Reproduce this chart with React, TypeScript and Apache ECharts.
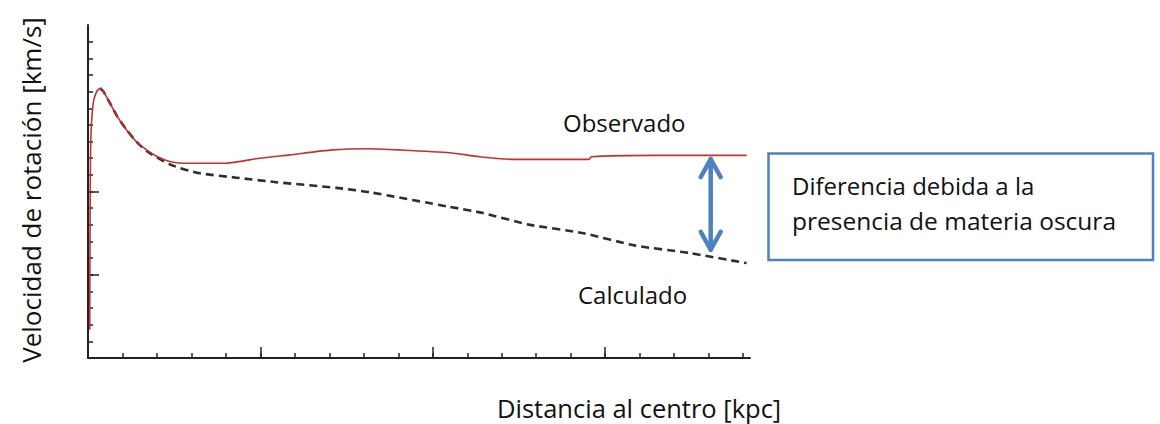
import { useEffect, useRef } from "react";
import * as echarts from "echarts";

// Distance from centre (kpc, arbitrary units as drawn) and rotation speed
const observedDist = [0.05, 0.06, 0.08, 0.15, 0.25, 0.35, 0.45, 0.64, 0.85, 1.12, 1.4, 1.7, 2.0, 2.37, 2.75, 4.0, 4.98, 5.85, 7.09, 8.16, 9.03, 10.48, 11.35, 12.36, 14.53, 14.6, 16.46, 19.1];
const observedVel = [1.7, 8.0, 13.0, 15.3, 16.0, 16.2, 16.0, 15.3, 14.5, 13.7, 13.0, 12.5, 12.1, 11.8, 11.7, 11.7, 12.0, 12.2, 12.5, 12.57, 12.5, 12.33, 12.09, 11.93, 11.93, 12.09, 12.17, 12.17];

const calcDist = [0.35, 0.45, 0.64, 0.85, 1.12, 1.4, 1.7, 2.37, 3.15, 4.3, 5.46, 7.2, 8.16, 10.48, 11.43, 12.79, 14.33, 15.88, 17.42, 19.1];
const calcVel = [16.2, 16.0, 15.3, 14.5, 13.7, 13.0, 12.43, 11.63, 11.13, 10.83, 10.56, 10.22, 9.96, 9.08, 8.72, 8.01, 7.51, 6.75, 6.31, 5.7];

const xMinorTicks = [1, 2, 3, 4, 5, 6, 7, 8, 9, 10, 11, 12, 13, 14, 15, 16, 17, 18, 19];
const xMajorTicks = [5, 10, 15];
const yMinorTicks = [1, 2, 3, 4, 5, 6, 7, 8, 9, 10, 11, 12, 13, 14, 15, 16, 17, 18, 19];
const yMajorTicks = [5, 10];

const xTitle = "Distancia al centro [kpc]";
const yTitle = "Velocidad de rotación [km/s]";
const observedLabel = "Observado";
const calcLabel = "Calculado";
const noteLines = ["Diferencia debida a la", "presencia de materia oscura"];

// arrow anchor (data units)
const arrowX = 18.06;
const arrowTop = 11.95;
const arrowBottom = 6.5;

const FONT = "'Open Sans', sans-serif";
const BLUE = "#4f81bd";

export default function App() {
  const ref = useRef<HTMLDivElement>(null);
  useEffect(() => {
    if (!ref.current) return;
    const chart = echarts.init(ref.current, undefined, { renderer: "svg" });
    const axisBase = {
      type: "value" as const,
      axisLabel: { show: false },
      splitLine: { show: false },
    };
    chart.setOption({
      animation: false,
      backgroundColor: "#ffffff",
      grid: { left: 88, top: 25, right: 410, bottom: 66 },
      xAxis: [
        {
          ...axisBase,
          min: 0,
          max: 19.2,
          position: "bottom",
          axisLine: { show: true, lineStyle: { color: "#222", width: 2 } },
          axisTick: { show: true, inside: true, length: 5, customValues: xMinorTicks, lineStyle: { color: "#222", width: 1.5 } },
        },
        {
          ...axisBase,
          min: 0,
          max: 19.2,
          position: "bottom",
          axisLine: { show: false },
          axisTick: { show: true, inside: true, length: 11, customValues: xMajorTicks, lineStyle: { color: "#222", width: 1.5 } },
        },
      ],
      yAxis: [
        {
          ...axisBase,
          min: 0,
          max: 20,
          position: "left",
          axisLine: { show: true, lineStyle: { color: "#222", width: 2 } },
          axisTick: { show: true, inside: true, length: 5, customValues: yMinorTicks, lineStyle: { color: "#222", width: 1.5 } },
        },
        {
          ...axisBase,
          min: 0,
          max: 20,
          position: "left",
          axisLine: { show: false },
          axisTick: { show: true, inside: true, length: 11, customValues: yMajorTicks, lineStyle: { color: "#222", width: 1.5 } },
        },
      ],
      series: [
        {
          name: calcLabel,
          type: "line",
          xAxisIndex: 0,
          yAxisIndex: 0,
          data: calcDist.map((d, i) => [d, calcVel[i]]),
          showSymbol: false,
          symbol: "none",
          smooth: 0.2,
          lineStyle: { color: "#2e2e2e", width: 2.6, type: [8, 5] },
          z: 2,
        },
        {
          name: observedLabel,
          type: "line",
          xAxisIndex: 0,
          yAxisIndex: 0,
          data: observedDist.map((d, i) => [d, observedVel[i]]),
          showSymbol: false,
          symbol: "none",
          smooth: 0.2,
          lineStyle: { color: "#c62f2f", width: 1.6 },
          z: 3,
        },
      ],
    });

    const top = chart.convertToPixel({ xAxisIndex: 0, yAxisIndex: 0 }, [arrowX, arrowTop]) as number[];
    const bot = chart.convertToPixel({ xAxisIndex: 0, yAxisIndex: 0 }, [arrowX, arrowBottom]) as number[];
    const ax = top[0];
    const arrowStyle = { stroke: BLUE, lineWidth: 4.5, lineCap: "round", lineJoin: "round", fill: null };

    chart.setOption({
      graphic: [
        {
          type: "text",
          x: 31,
          y: 190,
          rotation: Math.PI / 2,
          style: { text: yTitle, font: `26px ${FONT}`, fill: "#111", align: "center", verticalAlign: "middle" },
        },
        {
          type: "text",
          x: 497,
          y: 408,
          style: { text: xTitle, font: `25.5px ${FONT}`, fill: "#111", align: "left", verticalAlign: "middle" },
        },
        {
          type: "text",
          x: 563,
          y: 122,
          style: { text: observedLabel, font: `24px ${FONT}`, fill: "#111", align: "left", verticalAlign: "middle" },
        },
        {
          type: "text",
          x: 578,
          y: 294,
          style: { text: calcLabel, font: `24px ${FONT}`, fill: "#111", align: "left", verticalAlign: "middle" },
        },
        {
          type: "rect",
          shape: { x: 768.5, y: 153.5, width: 384.5, height: 106.5 },
          style: { fill: "#fff", stroke: BLUE, lineWidth: 2.5 },
        },
        {
          type: "text",
          x: 792,
          y: 185,
          style: { text: noteLines[0], font: `24px ${FONT}`, fill: "#111", align: "left", verticalAlign: "middle" },
        },
        {
          type: "text",
          x: 792,
          y: 220,
          style: { text: noteLines[1], font: `24.5px ${FONT}`, fill: "#111", align: "left", verticalAlign: "middle" },
        },
        {
          type: "line",
          shape: { x1: ax, y1: top[1], x2: ax, y2: bot[1] },
          style: arrowStyle,
        },
        {
          type: "polyline",
          shape: { points: [[ax - 10, top[1] + 18], [ax, top[1]], [ax + 10, top[1] + 18]] },
          style: arrowStyle,
        },
        {
          type: "polyline",
          shape: { points: [[ax - 10, bot[1] - 18], [ax, bot[1]], [ax + 10, bot[1] - 18]] },
          style: arrowStyle,
        },
      ],
    });
    return () => chart.dispose();
  }, []);
  return (
    <div
      ref={ref}
      style={{ position: "fixed", left: 0, top: 0, width: 1160, height: 424, background: "#fff" }}
    />
  );
}
